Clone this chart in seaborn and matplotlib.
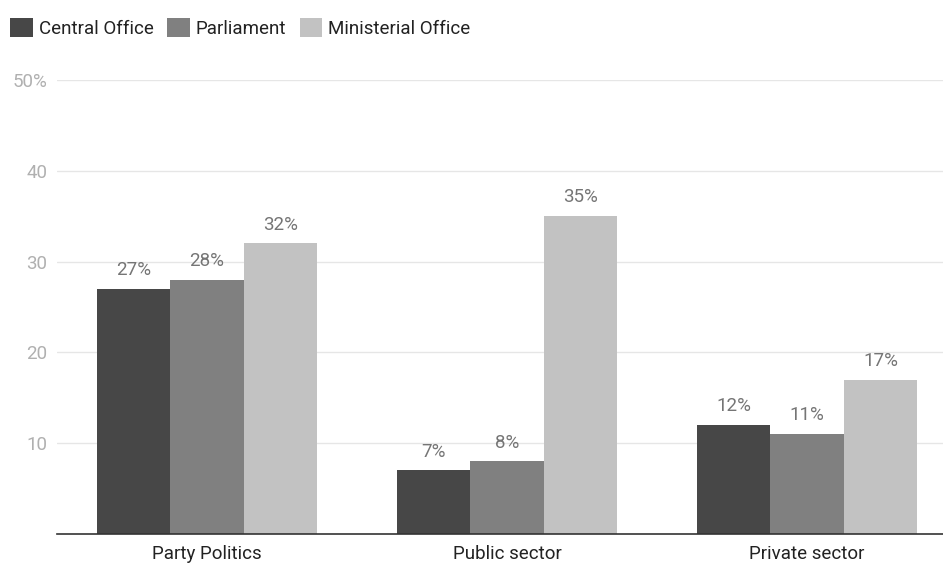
import matplotlib
matplotlib.use("Agg")
import matplotlib.pyplot as plt
import seaborn as sns
import pandas as pd
from matplotlib.patches import Patch

categories = ["Party Politics", "Public sector", "Private sector"]
series = ["Central Office", "Parliament", "Ministerial Office"]
central_office = [27, 7, 12]
parliament = [28, 8, 11]
ministerial_office = [32, 35, 17]
y_ticks = [10, 20, 30, 40, 50]
y_tick_labels = ["10", "20", "30", "40", "50%"]
colors = ["#474747", "#808080", "#c2c2c2"]

rows = []
for name, vals in zip(series, [central_office, parliament, ministerial_office]):
    for cat, v in zip(categories, vals):
        rows.append({"category": cat, "series": name, "value": v})
df = pd.DataFrame(rows)

sns.set_theme(style="white")
plt.rcParams["font.family"] = ["Roboto", "DejaVu Sans"]

fig = plt.figure(figsize=(9.43, 5.63), dpi=100)
ax = fig.add_axes([57 / 943, 29 / 563, 1 - 57 / 943, 454 / 563])

sns.barplot(data=df, x="category", y="value", hue="series", order=categories,
            hue_order=series, palette=colors, width=0.735, gap=0,
            saturation=1, linewidth=0, ax=ax, legend=False)

for container in ax.containers:
    ax.bar_label(container, fmt="%d%%", padding=7, color="#757575", fontsize=13.5)

ax.set_ylim(0, 50)
ax.set_xlim(-0.5, 2.453)
ax.set_yticks(y_ticks)
ax.set_yticklabels(y_tick_labels, color="#b0b0b0", fontsize=13.5)
ax.tick_params(axis="y", length=0, pad=7)
ax.tick_params(axis="x", length=0, pad=8, labelsize=13.5, labelcolor="#222222")
ax.yaxis.grid(True, color="#e6e6e6", linewidth=1)
ax.set_axisbelow(True)
ax.set_xlabel("")
ax.set_ylabel("")
for side in ["top", "right", "left"]:
    ax.spines[side].set_visible(False)
ax.spines["bottom"].set_color("#333333")
ax.spines["bottom"].set_linewidth(1.2)

handles = [Patch(facecolor=c, edgecolor="none") for c in colors]
fig.legend(handles, series, loc="upper left", bbox_to_anchor=(10 / 943, 1 - 18 / 563),
           ncol=3, frameon=False, fontsize=13.5, handlelength=1.2, handleheight=1.2,
           handletextpad=0.33, columnspacing=0.72, labelcolor="#222222",
           borderpad=0, borderaxespad=0)

fig.savefig("out.png", dpi=100)
